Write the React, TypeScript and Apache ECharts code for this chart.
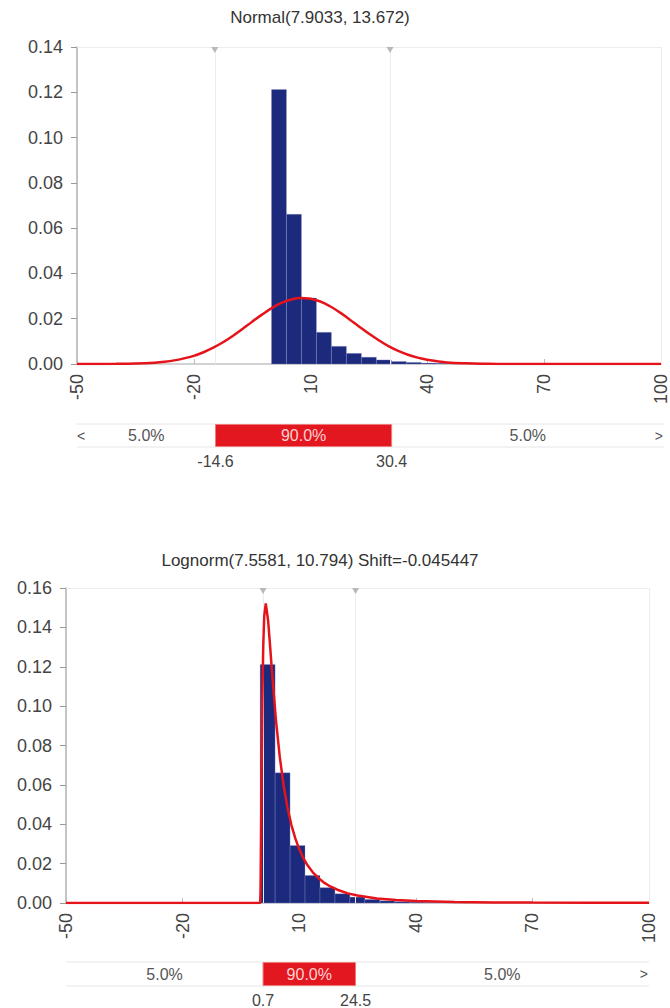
import { useEffect, useRef } from "react";
import * as echarts from "echarts";

// ---------- data ----------
const xMin = -50;
const xMax = 100;
const xStep = 30;

const topTitle = "Normal(7.9033, 13.672)";
const bottomTitle = "Lognorm(7.5581, 10.794) Shift=-0.045447";

// histogram (same sample for both panels)
const binEdges = [-0.05, 3.8, 7.65, 11.5, 15.35, 19.2, 23.05, 26.9, 30.75, 34.6, 38.45, 42.3, 46.15, 50.0, 53.85];
const binDensity = [0.1212, 0.0661, 0.0292, 0.014, 0.0078, 0.0047, 0.003, 0.0018, 0.0011, 0.0007, 0.0004, 0.0003, 0.0002, 0.0001];

// fitted normal curve
const normalX = [-50, -45, -40, -35, -30, -27.5, -25, -22.5, -20, -17.5, -15, -12.5, -10, -7.5, -5, -2.5, 0, 2.5, 5, 7.5, 10, 12.5, 15, 17.5, 20, 22.5, 25, 27.5, 30, 32.5, 35, 37.5, 40, 42.5, 45, 50, 55, 60, 70, 80, 90, 100];
const normalY = [0, 0.00002, 0.00006, 0.0002, 0.0006, 0.001, 0.0016, 0.0025, 0.0036, 0.0052, 0.0072, 0.0096, 0.0124, 0.0155, 0.0187, 0.0218, 0.0247, 0.027, 0.0285, 0.0292, 0.0288, 0.0276, 0.0255, 0.0228, 0.0197, 0.0165, 0.0134, 0.0105, 0.0079, 0.0058, 0.0041, 0.0028, 0.0019, 0.0012, 0.0007, 0.0003, 0.0001, 0, 0, 0, 0, 0];

// fitted lognormal curve
const lognormX = [-50, -0.05, 0.05, 0.15, 0.3, 0.5, 0.75, 1.0, 1.4, 2.0, 2.5, 3, 4, 5, 6, 7, 8, 9, 10, 11, 12, 13.5, 15, 16.5, 18, 20, 22.5, 25, 30, 35, 40, 50, 60, 70, 85, 100];
const lognormY = [0, 0, 0.0056, 0.0256, 0.0615, 0.1004, 0.1305, 0.1457, 0.1522, 0.1435, 0.1309, 0.1175, 0.0933, 0.0742, 0.0596, 0.0483, 0.0396, 0.0328, 0.0274, 0.0231, 0.0196, 0.0156, 0.0126, 0.0102, 0.0084, 0.0066, 0.0049, 0.0038, 0.0023, 0.0015, 0.001, 0.0005, 0.0003, 0.0002, 0.0001, 0.0001];

const topYMax = 0.14;
const bottomYMax = 0.16;
const yStep = 0.02;

// probability bands
const topBandEdges = [-14.6, 30.4];
const topBandEdgeLabels = ["-14.6", "30.4"];
const topBandPcts = ["5.0%", "90.0%", "5.0%"];
const topBandArrows = [true, true];

const bottomBandEdges = [0.7, 24.5];
const bottomBandEdgeLabels = ["0.7", "24.5"];
const bottomBandPcts = ["5.0%", "90.0%", "5.0%"];
const bottomBandArrows = [false, true];

// ---------- styling ----------
const FONT = "'Liberation Sans', Arial, sans-serif";
const BAR_COLOR = "#1c2a7e";
const CURVE_COLOR = "#e5141b";
const BAND_RED = "#e3171f";

function histSeries(xi: number) {
  const data = binDensity.map((h, i) => [binEdges[i], binEdges[i + 1], h]);
  return {
    type: "custom",
    xAxisIndex: xi,
    yAxisIndex: xi,
    z: 3,
    data,
    renderItem: (params: any, api: any) => {
      const a = api.coord([api.value(0), api.value(2)]);
      const b = api.coord([api.value(1), 0]);
      return {
        type: "rect",
        shape: { x: a[0], y: a[1], width: b[0] - a[0], height: b[1] - a[1] },
        style: { fill: BAR_COLOR, stroke: "rgba(150,150,205,0.5)", lineWidth: 0.6 },
      };
    },
  };
}

function curveSeries(xi: number, xs: number[], ys: number[], smooth: any) {
  return {
    type: "line",
    xAxisIndex: xi,
    yAxisIndex: xi,
    z: 5,
    data: xs.map((x, i) => [x, ys[i]]),
    showSymbol: false,
    smooth,
    lineStyle: { color: CURVE_COLOR, width: 2.5 },
    itemStyle: { color: CURVE_COLOR },
  };
}

function guideSeries(xi: number, edges: number[], yMax: number) {
  return {
    type: "line",
    xAxisIndex: xi,
    yAxisIndex: xi,
    z: 1,
    data: [[xMin, yMax]],
    showSymbol: false,
    lineStyle: { opacity: 0 },
    markLine: {
      silent: true,
      symbol: "none",
      label: { show: false },
      lineStyle: { color: "#ededed", type: "solid", width: 1 },
      data: [{ xAxis: edges[0] }, { xAxis: edges[1] }, { xAxis: xMax }, { yAxis: yMax }],
    },
    markPoint: {
      silent: true,
      symbol: "triangle",
      symbolRotate: 180,
      symbolSize: [7, 6],
      symbolOffset: [0, 3],
      itemStyle: { color: "#b8b8b8" },
      label: { show: false },
      data: [{ coord: [edges[0], yMax] }, { coord: [edges[1], yMax] }],
    },
  };
}

function bandSeries(xi: number, edges: number[], edgeLabels: string[], pcts: string[], arrows: boolean[]) {
  const segs = [
    [xMin, edges[0]],
    [edges[0], edges[1]],
    [edges[1], xMax],
  ];
  return {
    type: "custom",
    xAxisIndex: xi,
    yAxisIndex: xi,
    z: 4,
    data: segs,
    renderItem: (params: any, api: any) => {
      const i = params.dataIndex;
      const p0 = api.coord([api.value(0), 1]);
      const p1 = api.coord([api.value(1), 0]);
      const cx = (p0[0] + p1[0]) / 2;
      const cy = (p0[1] + p1[1]) / 2;
      const children: any[] = [];
      children.push({
        type: "line",
        shape: { x1: p0[0], y1: p0[1], x2: p1[0], y2: p0[1] },
        style: { stroke: "#e6e6e6", lineWidth: 1 },
      });
      children.push({
        type: "line",
        shape: { x1: p0[0], y1: p1[1], x2: p1[0], y2: p1[1] },
        style: { stroke: "#e6e6e6", lineWidth: 1 },
      });
      if (i === 1) {
        children.push({
          type: "rect",
          shape: { x: p0[0], y: p0[1] + 0.5, width: p1[0] - p0[0], height: p1[1] - p0[1] - 1 },
          style: { fill: BAND_RED, stroke: "#f07a7a", lineWidth: 1 },
        });
        children.push({
          type: "text",
          style: { text: pcts[1], x: cx, y: cy, align: "center", verticalAlign: "middle", fontSize: 16, fontFamily: FONT, fill: "#fcd2d2" },
        });
        children.push({
          type: "text",
          style: { text: edgeLabels[0], x: p0[0], y: p1[1] + 14, align: "center", verticalAlign: "middle", fontSize: 16, fontFamily: FONT, fill: "#444" },
        });
        children.push({
          type: "text",
          style: { text: edgeLabels[1], x: p1[0], y: p1[1] + 14, align: "center", verticalAlign: "middle", fontSize: 16, fontFamily: FONT, fill: "#444" },
        });
      } else {
        children.push({
          type: "text",
          style: { text: pcts[i], x: cx, y: cy, align: "center", verticalAlign: "middle", fontSize: 16, fontFamily: FONT, fill: "#555" },
        });
        if (i === 0 && arrows[0]) {
          children.push({
            type: "text",
            style: { text: "<", x: p0[0] + 0, y: cy, align: "left", verticalAlign: "middle", fontSize: 14, fontFamily: FONT, fill: "#555" },
          });
        }
        if (i === 2 && arrows[1]) {
          children.push({
            type: "text",
            style: { text: ">", x: p1[0] - 1, y: cy, align: "right", verticalAlign: "middle", fontSize: 14, fontFamily: FONT, fill: "#555" },
          });
        }
      }
      return { type: "group", children };
    },
  };
}

function mainX(gi: number) {
  return {
    type: "value",
    gridIndex: gi,
    min: xMin,
    max: xMax,
    interval: xStep,
    axisLine: { show: true, onZero: false, lineStyle: { color: "#d2d2d2", width: 2 } },
    axisTick: { show: true, inside: true, length: 5, lineStyle: { color: "#bbb" } },
    axisLabel: { rotate: 90, fontSize: 18, fontFamily: FONT, color: "#444", margin: 10, showMinLabel: true, showMaxLabel: true },
    splitLine: { show: false },
  };
}

function mainY(gi: number, max: number) {
  return {
    type: "value",
    gridIndex: gi,
    min: 0,
    max,
    interval: yStep,
    axisLine: { show: true, onZero: false, lineStyle: { color: "#b0b0b0", width: 1.5 } },
    axisTick: { show: true, length: 6, lineStyle: { color: "#999" } },
    axisLabel: { fontSize: 18, fontFamily: FONT, color: "#444", margin: 14, formatter: (v: number) => v.toFixed(2) },
    splitLine: { show: false },
  };
}

function bandX(gi: number) {
  return { type: "value", gridIndex: gi, min: xMin, max: xMax, show: false };
}
function bandY(gi: number) {
  return { type: "value", gridIndex: gi, min: 0, max: 1, show: false };
}

export default function App() {
  const ref = useRef<HTMLDivElement>(null);
  useEffect(() => {
    if (!ref.current) return;
    const chart = echarts.init(ref.current, null, { renderer: "svg" });
    chart.setOption({
      animation: false,
      backgroundColor: "#ffffff",
      textStyle: { fontFamily: FONT },
      graphic: [
        { type: "text", style: { text: topTitle, x: 320, y: 17, align: "center", verticalAlign: "middle", fontSize: 17, fontFamily: FONT, fill: "#333" } },
        { type: "text", style: { text: bottomTitle, x: 320, y: 560, align: "center", verticalAlign: "middle", fontSize: 17, fontFamily: FONT, fill: "#333" } },
      ],
      grid: [
        { left: 77, top: 47, width: 587, height: 317 },
        { left: 77, top: 424, width: 587, height: 23 },
        { left: 66, top: 588, width: 583, height: 315 },
        { left: 66, top: 962, width: 583, height: 24 },
      ],
      xAxis: [mainX(0), bandX(1), mainX(2), bandX(3)],
      yAxis: [mainY(0, topYMax), bandY(1), mainY(2, bottomYMax), bandY(3)],
      series: [
        guideSeries(0, topBandEdges, topYMax),
        histSeries(0),
        curveSeries(0, normalX, normalY, 0.4),
        bandSeries(1, topBandEdges, topBandEdgeLabels, topBandPcts, topBandArrows),
        guideSeries(2, bottomBandEdges, bottomYMax),
        histSeries(2),
        curveSeries(2, lognormX, lognormY, false),
        bandSeries(3, bottomBandEdges, bottomBandEdgeLabels, bottomBandPcts, bottomBandArrows),
      ],
    });
    return () => chart.dispose();
  }, []);
  return <div ref={ref} style={{ position: "absolute", left: 0, top: 0, width: 670, height: 1008 }} />;
}
